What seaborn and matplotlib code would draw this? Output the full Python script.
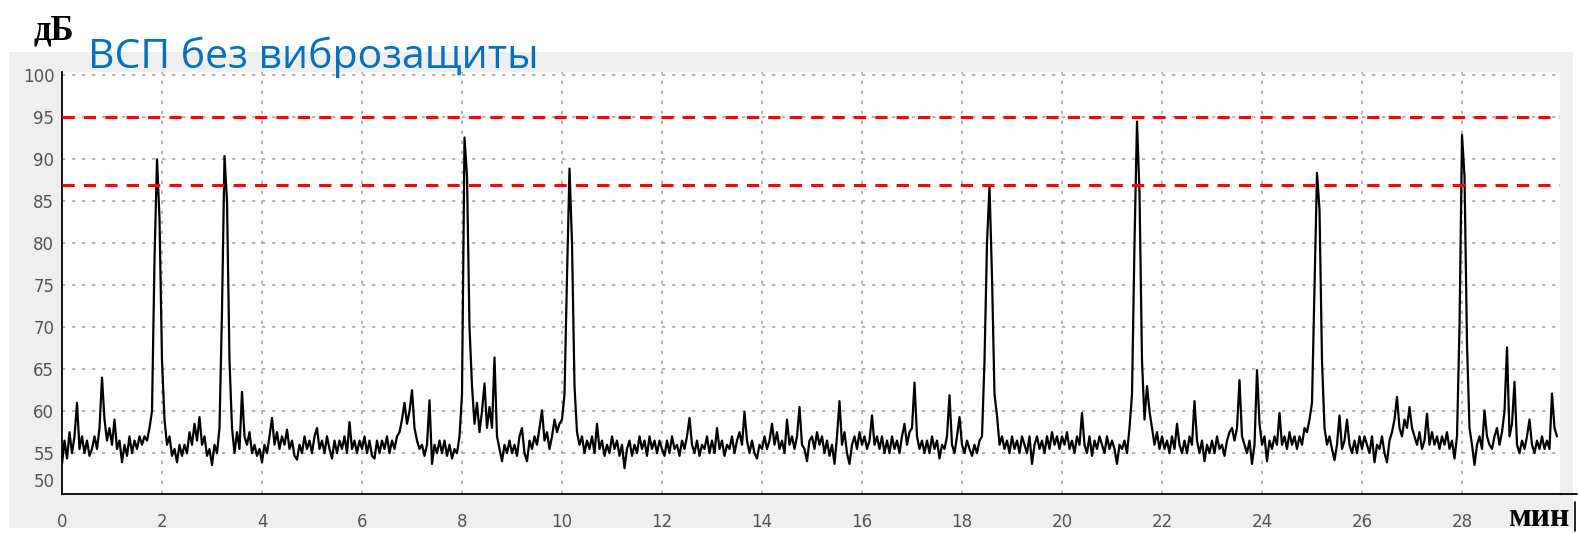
import numpy as np
import pandas as pd
import matplotlib
matplotlib.use("Agg")
import matplotlib.pyplot as plt
from matplotlib.patches import Rectangle
from matplotlib.lines import Line2D
from matplotlib.ticker import MultipleLocator, FixedLocator
import seaborn as sns

# sampling step of the recording, minutes
STEP_MIN = 0.05

# sound level, dB, one row per minute (20 samples each)
level_db = [
    53, 56.5, 54, 57.5, 55, 57, 61, 55.5, 57, 55, 56.5, 54.5, 55.5, 57, 55.5, 58, 64, 59, 56.5, 58,
    56, 59, 55.5, 56.5, 53.3, 56, 54.5, 57, 55, 56.5, 55.5, 57, 56, 57, 56.5, 58, 60, 78, 90, 83,
    66, 59, 56, 57, 54.5, 55.5, 53.3, 56, 54.5, 56, 55, 57.5, 56, 58.5, 56.5, 59.3, 56, 57, 54.5, 55.5,
    52.8, 56, 55, 58, 72, 90.4, 85, 66, 58, 55, 57.5, 55.5, 62.3, 57, 56, 57.5, 55, 56, 54.5, 55.5,
    53.3, 56, 55, 57, 59.2, 56, 57.5, 55.5, 57, 56, 57.8, 55.5, 56.5, 54.5, 53.8, 56, 55, 57, 55.5, 56.5,
    55, 57, 58, 55.5, 56.5, 55, 57, 55.5, 54, 56.5, 55, 56.5, 55.5, 57, 55, 58.7, 55.5, 56.5, 55, 56.5,
    55.5, 57, 55, 56.5, 54.5, 54, 56.5, 55, 56.5, 55.5, 57, 55, 56.5, 55.5, 57, 57.5, 59, 61, 58.5, 60,
    62.5, 58, 56.5, 55.5, 56, 54.5, 56, 61.3, 53, 56, 55, 56.5, 55, 56.5, 54.5, 56, 54, 55.5, 55, 57,
    62, 92.6, 88, 70, 63, 58.5, 61, 57.5, 60, 63.3, 58, 60.5, 58, 66.4, 57, 55.5, 53.5, 56, 55, 56.5,
    55, 56, 54.5, 57, 58, 55, 53.5, 56.5, 55.5, 57, 56, 58, 60.1, 56.5, 57.5, 55.5, 57, 59, 57.5, 58.5,
    59, 62, 76, 88.9, 80, 63, 57.5, 56, 57, 55, 56.5, 55.5, 57, 55, 58.5, 55.5, 56.5, 54.5, 56, 55,
    57, 55.5, 56.5, 54.5, 56, 52.2, 55.5, 56.5, 54.5, 56, 55, 57, 55.5, 56.5, 54.5, 57, 55.5, 56.5, 55, 56.5,
    55.5, 54.5, 56.5, 55, 57, 55.5, 56, 54.5, 56.5, 55.5, 57, 59.2, 56, 55, 56.5, 54.5, 56, 55.5, 57, 55,
    56.5, 55, 58, 55.5, 56.5, 54.5, 56, 55.5, 57, 55, 56.5, 57.5, 56, 59.9, 56.5, 55, 56.5, 55, 54, 56,
    55.5, 57, 55.5, 56.5, 58.5, 56, 57.5, 55.5, 56.5, 55, 59, 56, 57, 55.5, 57, 60.5, 56, 55.5, 53.5, 56.5,
    57, 55.5, 57.5, 56, 57, 55, 56.5, 54.5, 56, 53, 57, 61.2, 56, 57.5, 55, 53, 56, 57, 55.5, 57.5,
    56, 57, 55.5, 56.5, 59.5, 56, 57, 55.5, 57, 55, 56.5, 55, 57, 55.5, 56.5, 55, 57, 58.5, 56, 57.5,
    58, 63.4, 57, 55.5, 56.5, 55, 56.5, 55, 57, 55.5, 56.5, 54, 56, 55.5, 57, 61.9, 56, 55, 57, 59.3,
    56, 55, 56.5, 55.5, 54.5, 56, 55, 56.5, 57, 66, 80, 86.8, 76, 62, 59.5, 56, 57, 55.5, 56.5, 55,
    57, 55.5, 56.5, 55, 57, 56, 55, 57, 53, 56, 57, 55.5, 56.5, 55, 57, 55.5, 57.5, 56, 57, 55.5,
    57, 56, 57.5, 55.5, 56.5, 55, 57, 56, 59.8, 56, 55, 57, 54.5, 56.5, 55.5, 57, 56, 55, 57, 55.5,
    56.5, 55.5, 53, 56, 55.5, 56.5, 55, 58, 62, 80, 94.5, 86, 66, 59, 63, 60, 58, 56, 57.5, 55.5,
    57, 55.5, 56.5, 55, 57, 55.5, 58.5, 56, 55, 56.5, 55, 57, 56, 61.2, 56.5, 55, 56.5, 53.5, 56, 55,
    56.5, 55, 57, 55.5, 56, 54.5, 56.5, 57.5, 58, 56.5, 58, 63.7, 57, 56, 55, 56.5, 53, 56, 64.9, 58.5,
    56, 57, 53.5, 56.5, 55.5, 57, 56, 59.8, 56, 57, 55.5, 57.5, 56, 57, 55.5, 57, 56, 58, 57.5, 59,
    61, 75, 88.4, 84, 66, 58, 56, 57, 55.5, 53.7, 56, 59.5, 55.5, 56.5, 59, 56, 55, 56.5, 55, 57,
    55.5, 57, 56, 55, 57, 53.3, 56, 55.5, 57, 55, 53.3, 56.5, 57.5, 59, 61.7, 58, 57, 59, 58, 60.5,
    58, 57, 56, 57.5, 55.5, 56.5, 59.7, 56, 57.5, 56, 57, 55.5, 57, 56, 57.5, 55.5, 56.5, 54, 57, 70,
    92.9, 88, 68, 58, 56, 52.8, 56, 57, 55.5, 60.1, 57, 56, 55.5, 57, 58, 56, 57.5, 60, 67.6, 57,
    58.5, 63.5, 56, 55, 56.5, 55.5, 57, 59, 56, 55, 56.5, 55.5, 57, 55.5, 56.5, 55.5, 62.1, 58, 57,
]

limit_upper = 95
limit_lower = 87

x_ticks = list(range(0, 29, 2))
y_ticks = list(range(50, 101, 5))

title = "ВСП без виброзащиты"
y_unit = "дБ"
x_unit = "мин"

# below 55 dB the original axis is squeezed
KNEE = 55
SQUEEZE = 0.64


def fwd(y):
    y = np.asarray(y, dtype=float)
    return np.where(y < KNEE, KNEE + (y - KNEE) * SQUEEZE, y)


def inv(z):
    z = np.asarray(z, dtype=float)
    return np.where(z < KNEE, KNEE + (z - KNEE) / SQUEEZE, z)


df = pd.DataFrame({"min": np.arange(len(level_db)) * STEP_MIN, "db": level_db})

sns.set_style("white")
plt.rcParams["font.family"] = ["DejaVu Sans"]

W, H = 1580, 533
fig = plt.figure(figsize=(W / 100, H / 100), dpi=100)
fig.patch.set_facecolor("white")
fig.patches.append(Rectangle((9 / W, 1 - 528 / H), (1573 - 9) / W, (528 - 52) / H,
                             transform=fig.transFigure, facecolor="#efefef",
                             edgecolor="none", zorder=-10))

ax = fig.add_axes([62 / W, 1 - 494 / H, (1560 - 62) / W, (494 - 72) / H])
ax.set_facecolor("white")

sns.lineplot(data=df, x="min", y="db", color="black", lw=1.6, ax=ax)

ax.axhline(limit_upper, color="#ff0000", lw=2.2, linestyle=(0, (4, 3)), zorder=5)
ax.axhline(limit_lower, color="#ff0000", lw=2.2, linestyle=(0, (4, 3)), zorder=5)

ax.set_yscale("function", functions=(fwd, inv))
ax.set_xlim(0, 29.96)
ax.set_ylim(47.4, 100.4)
ax.xaxis.set_major_locator(FixedLocator(x_ticks))
ax.xaxis.set_minor_locator(MultipleLocator(0.4))
ax.yaxis.set_major_locator(FixedLocator(y_ticks))
ax.yaxis.set_minor_locator(MultipleLocator(1))
ax.set_xlabel("")
ax.set_ylabel("")

ax.grid(True, which="major", color="#a8a8a8", linestyle=(0, (2, 4)), linewidth=1.2)
ax.get_ygridlines()[0].set_visible(False)
ax.get_xgridlines()[0].set_visible(False)

for side in ["top", "right"]:
    ax.spines[side].set_visible(False)
for side in ["left", "bottom"]:
    ax.spines[side].set_color("black")
    ax.spines[side].set_linewidth(1.3)

ax.tick_params(axis="both", which="major", labelsize=12, labelcolor="#555555",
               color="black", width=1.1)
ax.tick_params(axis="x", which="major", direction="out", length=6, pad=8)
ax.tick_params(axis="x", which="minor", direction="out", length=3, width=1)
ax.tick_params(axis="y", which="major", direction="inout", length=7, pad=2)
ax.tick_params(axis="y", which="minor", direction="inout", length=3, width=0.8)

# bits of the original frame to the right of the axes
fig.lines.append(Line2D([1560 / W, 1577 / W], [1 - 494 / H, 1 - 494 / H],
                        transform=fig.transFigure, color="black", lw=1.3))
fig.lines.append(Line2D([1575 / W, 1575 / W], [1 - 502 / H, 1 - 531 / H],
                        transform=fig.transFigure, color="black", lw=1.2))

fig.text(88 / W, 1 - 68 / H, title, color="#0070c0", fontsize=29.5,
         family=["Open Sans", "DejaVu Sans"], va="baseline", ha="left")
fig.text(33 / W, 1 - 39 / H, y_unit, color="black", fontsize=25, fontweight="bold",
         family=["Liberation Serif", "DejaVu Serif"], va="baseline", ha="left")
fig.text(1508 / W, 1 - 526 / H, x_unit, color="black", fontsize=24, fontweight="bold",
         family=["Liberation Serif", "DejaVu Serif"], va="baseline", ha="left")

fig.savefig("out.png", dpi=100, facecolor="white")
